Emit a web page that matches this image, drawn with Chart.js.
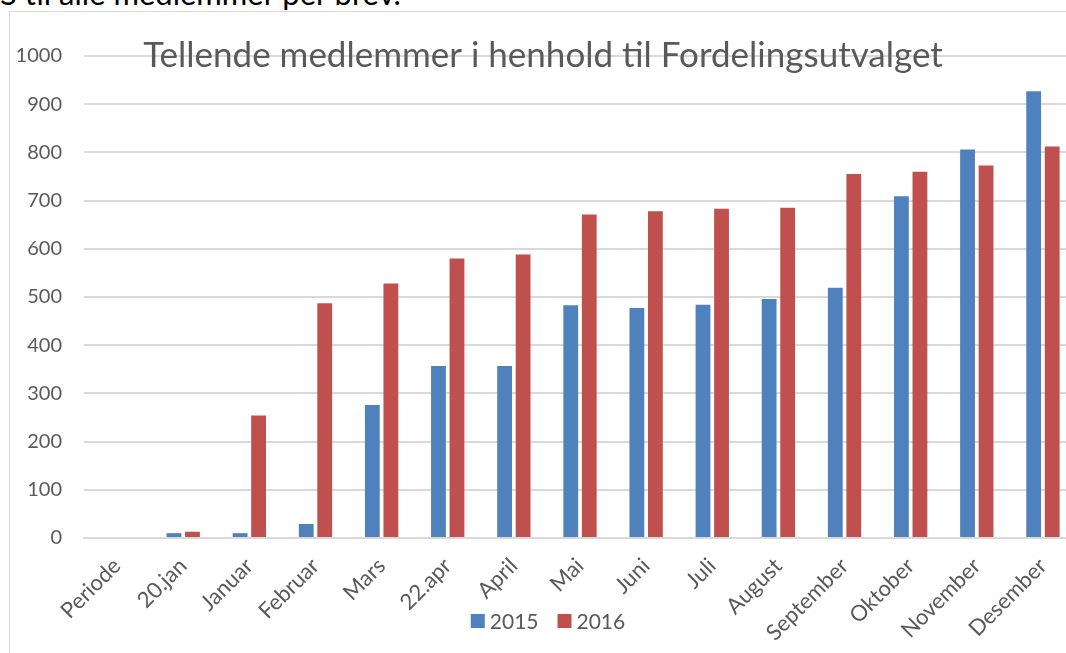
<!DOCTYPE html>
<html>
<head>
<meta charset="utf-8">
<script src="https://cdn.jsdelivr.net/npm/chart.js@4/dist/chart.umd.min.js"></script>
<style>
  body { margin: 0; background: #fff; width: 1066px; height: 653px; overflow: hidden; position: relative; font-family: Lato, sans-serif; }
  #note { position: absolute; left: 0; top: -26px; font-size: 31px; color: #000; white-space: nowrap; }
  #box { position: absolute; left: 9px; top: 11px; width: 1100px; height: 700px; border-left: 1px solid #d9d9d9; border-top: 1px solid #d9d9d9; }
  #wrap { position: absolute; left: 10px; top: 12px; width: 1066px; height: 641px; }
</style>
</head>
<body>
<div id="note">S til alle medlemmer per brev.</div>
<div id="box"></div>
<div id="wrap"><canvas id="myChart"></canvas></div>
<script>
const labels = [
  'Periode', '20.jan', 'Januar', 'Februar', 'Mars', '22.apr', 'April',
  'Mai', 'Juni', 'Juli', 'August', 'September', 'Oktober', 'November', 'Desember'
];

const values2015 = [0, 10, 10, 29, 276, 357, 357, 483, 477, 484, 496, 519, 709, 806, 927];
const values2016 = [0, 13, 254, 487, 528, 580, 588, 671, 678, 683, 685, 755, 760, 773, 812];

const yTicks = [0, 100, 200, 300, 400, 500, 600, 700, 800, 900, 1000];

const chartTitle = 'Tellende medlemmer i henhold til Fordelingsutvalget';
const textColor = '#595959';

// title is drawn over the plot like in the Excel chart
const overlayTitle = {
  id: 'overlayTitle',
  afterDraw(chart) {
    const ctx = chart.ctx;
    const area = chart.chartArea;
    ctx.save();
    ctx.font = '35px Lato';
    ctx.fillStyle = textColor;
    ctx.textAlign = 'center';
    ctx.textBaseline = 'middle';
    ctx.fillText(chartTitle, 533, area.top);
    ctx.restore();
  }
};

// legend sits among the rotated labels, so draw it by hand
const bottomLegend = {
  id: 'bottomLegend',
  afterDraw(chart) {
    const ctx = chart.ctx;
    const box = 14, gap = 5, itemGap = 19;
    ctx.save();
    ctx.font = '21px Lato';
    ctx.textBaseline = 'middle';
    const items = chart.data.datasets.map(ds => ({ text: ds.label, color: ds.backgroundColor, w: ctx.measureText(ds.label).width }));
    let total = items.reduce((s, it) => s + box + gap + it.w, 0) + itemGap * (items.length - 1);
    let x = 538 - total / 2;
    const y = 609;
    items.forEach(it => {
      ctx.fillStyle = it.color;
      ctx.fillRect(x, y - box / 2, box, box);
      x += box + gap;
      ctx.fillStyle = textColor;
      ctx.fillText(it.text, x, y + 1);
      x += it.w + itemGap;
    });
    ctx.restore();
  }
};

const data = {
  labels: labels,
  datasets: [{
    label: '2015',
    backgroundColor: '#4f81bd',
    data: values2015
  }, {
    label: '2016',
    backgroundColor: '#c0504d',
    data: values2016
  }]
};

const config = {
  type: 'bar',
  data: data,
  plugins: [overlayTitle, bottomLegend],
  options: {
    responsive: true,
    maintainAspectRatio: false,
    animation: false,
    layout: { padding: { top: 44, right: 0, bottom: 0, left: 0 } },
    datasets: { bar: { categoryPercentage: 0.56, barPercentage: 0.8 } },
    plugins: {
      legend: { display: false },
      tooltip: { enabled: false }
    },
    scales: {
      x: {
        grid: { display: false },
        border: { color: '#d9d9d9', width: 2 },
        ticks: { color: textColor, font: { family: 'Lato', size: 22 }, maxRotation: 45, minRotation: 45, padding: 7, autoSkip: false },
        afterFit(scale) { scale.height = 115; }
      },
      y: {
        min: 0,
        max: 1000,
        afterBuildTicks(scale) { scale.ticks = yTicks.map(v => ({ value: v })); },
        grid: { color: '#d9d9d9', lineWidth: 2, drawTicks: false },
        border: { display: false },
        ticks: { color: textColor, font: { family: 'Lato', size: 20 }, padding: 22, callback: v => String(v) },
        afterFit(scale) { scale.width = 74; }
      }
    }
  }
};

const myChart = new Chart(document.getElementById('myChart'), config);
</script>
</body>
</html>
